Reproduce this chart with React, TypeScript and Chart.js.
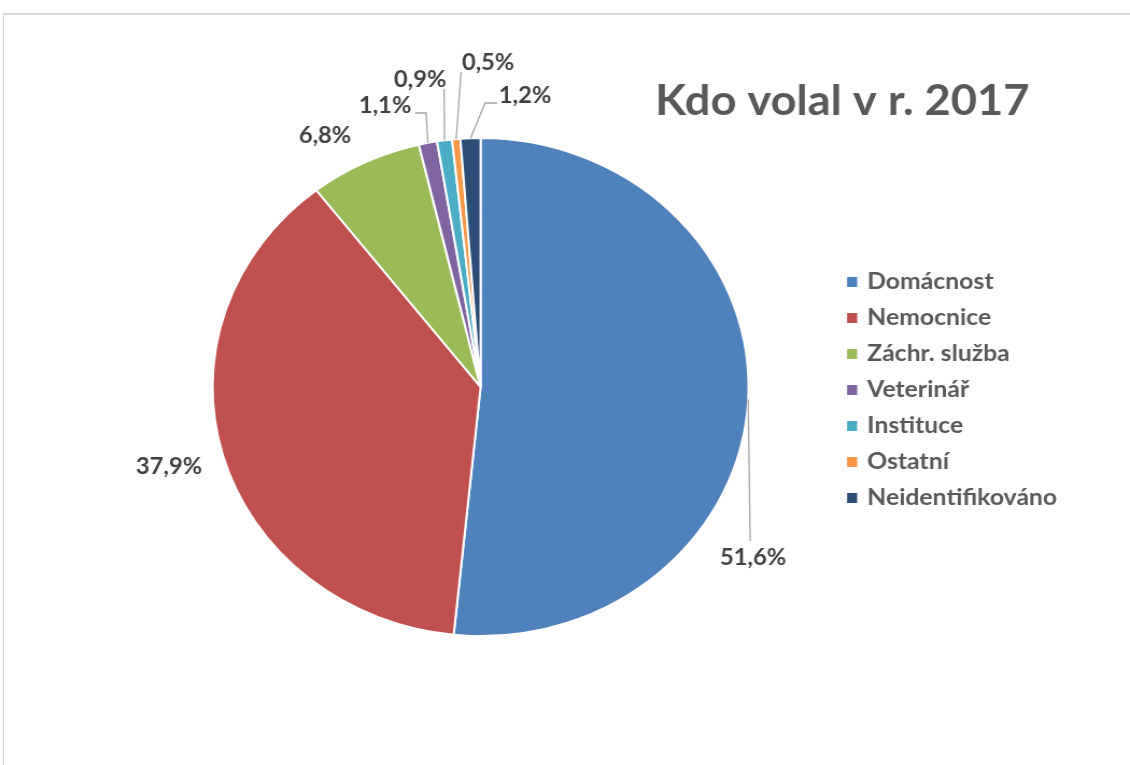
import React, { useEffect, useRef } from "react";
import { Chart, registerables } from "chart.js";

Chart.register(...registerables);

// ---- data ----
const categories = ["Domácnost", "Nemocnice", "Záchr. služba", "Veterinář", "Instituce", "Ostatní", "Neidentifikováno"];
const shares = [51.6, 37.9, 6.8, 1.1, 0.9, 0.5, 1.2];
const valueLabels = ["51,6%", "37,9%", "6,8%", "1,1%", "0,9%", "0,5%", "1,2%"];
const titleText = "Kdo volal v r. 2017";

// ---- styles ----
const colors = ["#4F81BD", "#C0504D", "#9BBB59", "#8064A2", "#4BACC6", "#F79646", "#2C4D75"];
const FONT = "Lato, 'Open Sans', sans-serif";
const W = 1130;
const H = 765;
const S = 1.076; // horizontal stretch of the reference picture
const IW = Math.round(W / S);

// label placement (reference-pixel coordinates), leader line bend points
const labelPlacement: { pos: [number, number]; line: [number, number][] | null }[] = [
  { pos: [753, 558], line: [[750, 541]] },
  { pos: [169, 467], line: null },
  { pos: [325, 136], line: null },
  { pos: [385, 106], line: [[426, 113], [415, 113]] },
  { pos: [420, 80], line: [[444, 89]] },
  { pos: [488, 63], line: [[461, 72]] },
  { pos: [525, 96], line: [[485, 103], [497, 103]] },
];

const legendX = 847;
const legendY0 = 282;
const legendStep = 36;

const overlayPlugin = {
  id: "overlay",
  afterDraw(chart: any) {
    const ctx = chart.ctx as CanvasRenderingContext2D;
    const meta = chart.getDatasetMeta(0);
    ctx.save();
    // leader lines + value labels
    meta.data.forEach((arc: any, i: number) => {
      const spec = labelPlacement[i];
      const mid = (arc.startAngle + arc.endAngle) / 2;
      const ax = arc.x + Math.cos(mid) * arc.outerRadius;
      const ay = arc.y + Math.sin(mid) * arc.outerRadius;
      if (spec.line) {
        ctx.beginPath();
        ctx.strokeStyle = "#A6A6A6";
        ctx.lineWidth = 1.3;
        ctx.moveTo(ax, ay);
        spec.line.forEach(([x, y]) => ctx.lineTo(x / S, y));
        ctx.stroke();
      }
      ctx.fillStyle = "#404040";
      ctx.font = `bold 22px ${FONT}`;
      ctx.textAlign = "center";
      ctx.textBaseline = "middle";
      ctx.fillText(valueLabels[i], spec.pos[0] / S, spec.pos[1]);
    });
    // title
    ctx.fillStyle = "#595959";
    ctx.font = `bold 42px ${FONT}`;
    ctx.textAlign = "left";
    ctx.textBaseline = "middle";
    ctx.fillText(titleText, 655 / S, 101);
    // legend
    categories.forEach((c, i) => {
      const y = legendY0 + i * legendStep;
      ctx.fillStyle = colors[i];
      ctx.fillRect(legendX / S, y - 5, 10 / S, 10);
      ctx.fillStyle = "#595959";
      ctx.font = `bold 23px ${FONT}`;
      ctx.textAlign = "left";
      ctx.textBaseline = "middle";
      ctx.fillText(c, 867 / S, y);
    });
    ctx.restore();
  },
};

export default function App() {
  const ref = useRef<HTMLCanvasElement>(null);
  useEffect(() => {
    if (!ref.current) return;
    const cx = 480.5 / S;
    const cy = 387;
    const r = 249 + 1;
    const chart = new Chart(ref.current, {
      type: "pie",
      data: {
        labels: categories,
        datasets: [
          {
            data: shares,
            backgroundColor: colors,
            borderColor: "#FFFFFF",
            borderWidth: 2,
          },
        ],
      },
      options: {
        responsive: false,
        animation: false,
        layout: {
          padding: { left: cx - r, right: IW - (cx + r), top: cy - r, bottom: H - (cy + r) },
        },
        plugins: {
          legend: { display: false },
          title: { display: false },
          tooltip: { enabled: false },
        },
      },
      plugins: [overlayPlugin],
    });
    return () => chart.destroy();
  }, []);
  return (
    <div style={{ position: "absolute", left: 0, top: 0, width: W, height: H, background: "#fff", overflow: "hidden" }}>
      <div
        style={{
          position: "absolute",
          left: 3,
          top: 13,
          right: -5,
          bottom: -5,
          borderTop: "2px solid #D9D9D9",
          borderLeft: "1px solid #D9D9D9",
        }}
      />
      <canvas ref={ref} width={IW} height={H} style={{ position: "absolute", left: 0, top: 0, width: W, height: H, display: "block" }} />
    </div>
  );
}
